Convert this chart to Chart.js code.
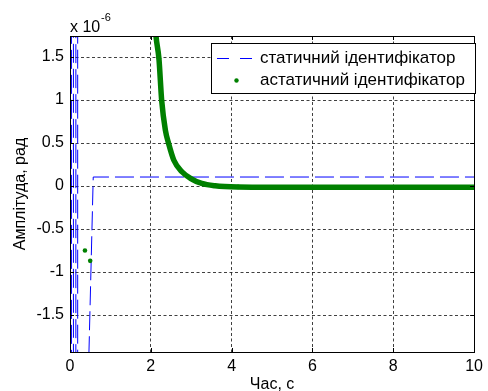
<!DOCTYPE html>
<html>
<head>
<meta charset="utf-8">
<script src="https://cdn.jsdelivr.net/npm/chart.js@4"></script>
<style>
  body { margin: 0; background: #fff; }
  #wrap { width: 488px; height: 391px; }
</style>
</head>
<body>
<div id="wrap"><canvas id="chart" width="488" height="391"></canvas></div>
<script>
// значення амплітуди в одиницях 10^-6 рад
const staticTime   = [0, 0.03, 0.04, 0.08, 0.09, 0.14, 0.15, 0.185, 0.195, 0.45, 0.575, 10];
const staticValue  = [0, -80, 80, 80, -80, -80, 80, 80, -80, -2.3, 0.105, 0.105];
const astaticTime  = [0.37, 0.43, 0.5, 1.3, 2.05, 2.13, 2.2, 2.27, 2.36, 2.44, 2.57, 2.77, 2.98, 3.26, 3.59, 4.16, 6, 8, 10];
const astaticValue = [-0.75, null, -0.87, null, 2.25, 1.736, 1.485, 0.988, 0.65, 0.496, 0.30, 0.166, 0.09, 0.03, 0.003, -0.01, -0.015, -0.015, -0.015];
const xTicks = [0, 2, 4, 6, 8, 10];
const yTicks = [-1.5, -1, -0.5, 0, 0.5, 1, 1.5];
const seriesLabels = ['статичний ідентифікатор', 'астатичний ідентифікатор'];

const FAMILY = '"Liberation Sans", Arial, sans-serif';

// рамка, засічки, легенда та підписи осей як у MATLAB
const matlabFrame = {
    id: 'matlabFrame',
    afterDraw(chart) {
        const { ctx, chartArea: a, scales: { x, y } } = chart;
        ctx.save();
        ctx.strokeStyle = '#000';
        ctx.lineWidth = 1;
        ctx.beginPath();
        xTicks.forEach(v => {
            const px = Math.round(x.getPixelForValue(v)) + 0.5;
            ctx.moveTo(px, a.bottom); ctx.lineTo(px, a.bottom - 4);
            ctx.moveTo(px, a.top); ctx.lineTo(px, a.top + 4);
        });
        yTicks.forEach(v => {
            const py = Math.round(y.getPixelForValue(v)) + 0.5;
            ctx.moveTo(a.left, py); ctx.lineTo(a.left + 4, py);
            ctx.moveTo(a.right, py); ctx.lineTo(a.right - 4, py);
        });
        ctx.stroke();
        ctx.strokeRect(Math.round(a.left) + 0.5, Math.round(a.top) + 0.5,
            Math.round(a.right - a.left), Math.round(a.bottom - a.top));

        // легенда
        const lx = 211, ly = 43, lw = 264, lh = 50;
        ctx.fillStyle = '#fff';
        ctx.fillRect(lx, ly, lw, lh);
        ctx.strokeRect(lx + 0.5, ly + 0.5, lw, lh);
        ctx.strokeStyle = 'rgb(0,0,255)';
        ctx.setLineDash([12, 11]);
        ctx.beginPath();
        ctx.moveTo(217, 58.5); ctx.lineTo(253, 58.5);
        ctx.stroke();
        ctx.setLineDash([]);
        ctx.fillStyle = 'rgb(0,128,0)';
        ctx.beginPath();
        ctx.arc(236.5, 80.5, 2.2, 0, Math.PI * 2);
        ctx.fill();
        ctx.fillStyle = '#000';
        ctx.font = '17px ' + FAMILY;
        ctx.textBaseline = 'middle';
        ctx.textAlign = 'left';
        ctx.fillText(seriesLabels[0], 260, 58);
        ctx.fillText(seriesLabels[1], 260, 80);

        // множник осі Y
        ctx.font = '16px ' + FAMILY;
        ctx.textBaseline = 'alphabetic';
        ctx.fillText('x 10', 70, 32);
        ctx.font = '11px ' + FAMILY;
        ctx.fillText('-6', 101, 21);

        // підписи осей
        ctx.font = '16px ' + FAMILY;
        ctx.textAlign = 'center';
        ctx.fillText('Час, с', (a.left + a.right) / 2, 389);
        ctx.translate(25, (a.top + a.bottom) / 2);
        ctx.rotate(-Math.PI / 2);
        ctx.fillText('Амплітуда, рад', 0, 0);
        ctx.restore();
    }
};

new Chart(document.getElementById('chart'), {
    type: 'line',
    data: {
        datasets: [{
            label: seriesLabels[0],
            data: staticTime.map((t, i) => ({ x: t, y: staticValue[i] })),
            borderColor: 'rgb(0,0,255)',
            borderWidth: 1,
            borderDash: [19, 6],
            pointRadius: 0,
            order: 1
        }, {
            label: seriesLabels[1],
            data: astaticTime.map((t, i) => ({ x: t, y: astaticValue[i] })),
            borderColor: 'rgb(0,128,0)',
            backgroundColor: 'rgb(0,128,0)',
            borderWidth: 5.5,
            pointRadius: 2.3,
            pointBorderWidth: 0,
            cubicInterpolationMode: 'monotone',
            spanGaps: false,
            order: 0
        }]
    },
    options: {
        responsive: false,
        animation: false,
        layout: { padding: { top: 36, right: 9, left: 0, bottom: 0 } },
        plugins: { legend: { display: false }, tooltip: { enabled: false } },
        scales: {
            x: {
                type: 'linear',
                min: 0, max: 10,
                afterFit: s => { s.height = 39; },
                afterBuildTicks: s => { s.ticks = xTicks.map(v => ({ value: v })); },
                grid: { color: 'rgba(0,0,0,0.75)', drawTicks: false },
                border: { display: false, dash: [3, 2.5] },
                ticks: { color: '#000', font: { family: FAMILY, size: 16 }, padding: 5, maxRotation: 0,
                    callback: v => String(v) }
            },
            y: {
                type: 'linear',
                min: -1.93, max: 1.745,
                afterFit: s => { s.width = 70; },
                afterBuildTicks: s => { s.ticks = yTicks.map(v => ({ value: v })); },
                grid: { color: 'rgba(0,0,0,0.75)', drawTicks: false },
                border: { display: false, dash: [3, 2.5] },
                ticks: { color: '#000', font: { family: FAMILY, size: 16 }, padding: 6,
                    callback: v => String(v) }
            }
        }
    },
    plugins: [matlabFrame]
});
</script>
</body>
</html>
